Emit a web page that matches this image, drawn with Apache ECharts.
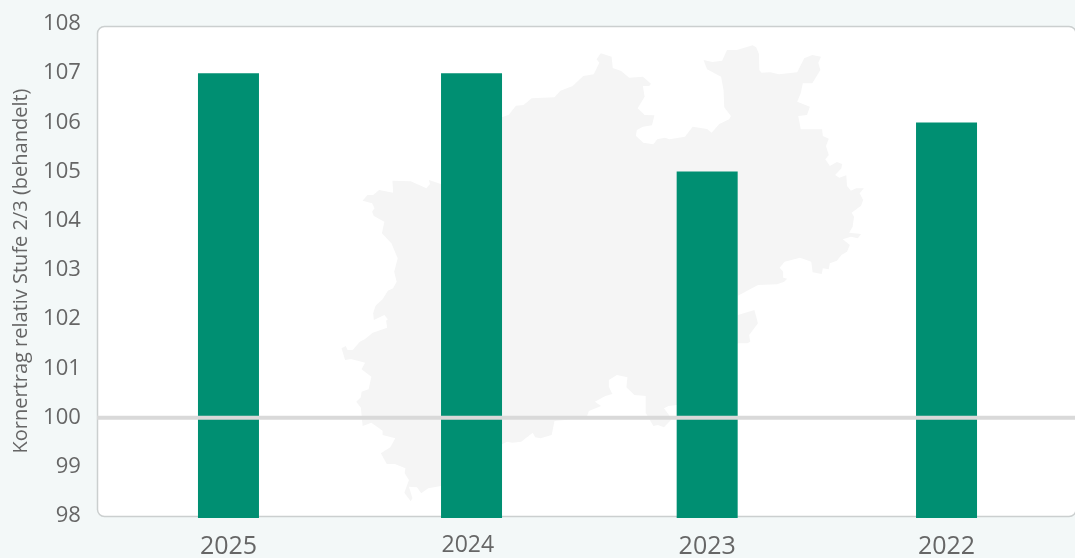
<!DOCTYPE html>
<html><head><meta charset="utf-8">
<style>html,body{margin:0;padding:0;background:#f3f8f8}#c{width:1075px;height:558px}</style>
<script src="https://cdn.jsdelivr.net/npm/echarts@6/dist/echarts.min.js"></script>
</head><body><div id="c"></div>
<script>
const categories = ['2025','2024','2023','2022'];
const values = [107,107,105,106];
const yTicks = [98,99,100,101,102,103,104,105,106,107,108];
const referenceLevel = 100;
const yTitle = 'Kornertrag relativ Stufe 2/3 (behandelt)';
// decorative background silhouette
const outline = [[178,422],[230,424],[275,445],[285,432],[282,420],[316,432],[490,232],[510,224],[530,197],[552,195],[575,175],[640,172],[657,152],[692,138],[722,108],[752,103],[768,68],[760,58],[772,40],[803,50],[806,84],[830,93],[853,113],[892,110],[915,131],[910,138],[892,138],[897,170],[877,205],[897,225],[925,226],[918,256],[892,260],[875,270],[872,287],[893,308],[922,313],[933,298],[955,293],[968,298],[1012,290],[1034,260],[1075,267],[1088,278],[1110,252],[1138,238],[1143,228],[1124,202],[1122,150],[1115,110],[1075,88],[1065,60],[1090,66],[1118,62],[1132,30],[1160,30],[1205,16],[1215,22],[1223,42],[1224,90],[1230,98],[1255,97],[1280,103],[1332,97],[1352,55],[1375,45],[1400,50],[1392,68],[1398,90],[1375,130],[1348,130],[1342,160],[1332,185],[1368,200],[1360,225],[1335,228],[1342,268],[1403,268],[1405,288],[1422,296],[1414,318],[1422,345],[1412,358],[1425,378],[1445,366],[1460,372],[1458,385],[1440,405],[1452,413],[1472,406],[1474,438],[1485,452],[1500,445],[1522,445],[1510,460],[1520,480],[1514,497],[1487,518],[1494,530],[1490,560],[1480,578],[1514,582],[1505,595],[1485,590],[1462,598],[1482,615],[1474,635],[1458,645],[1445,662],[1425,670],[1422,688],[1405,685],[1402,702],[1376,697],[1372,665],[1340,653],[1296,665],[1282,683],[1292,695],[1292,713],[1303,716],[1295,725],[1275,733],[1220,735],[1163,767],[1163,825],[1210,810],[1220,850],[1195,885],[1198,905],[1190,910],[1163,910],[989,1095],[965,1098],[952,1105],[970,1130],[972,1140],[952,1162],[935,1155],[922,1158],[900,1118],[900,1068],[868,1065],[845,1042],[848,1012],[818,1005],[795,1020],[795,1040],[805,1062],[785,1068],[755,1085],[773,1098],[738,1113],[732,1130],[670,1140],[640,1143],[632,1185],[600,1195],[585,1192],[578,1178],[545,1205],[520,1208],[505,1205],[490,1213],[316,1338],[280,1345],[260,1360],[248,1342],[225,1340],[235,1375],[230,1384],[212,1358],[225,1320],[213,1300],[215,1285],[185,1272],[162,1272],[145,1240],[172,1222],[186,1195],[150,1185],[150,1172],[118,1148],[93,1158],[88,1103],[75,1085],[88,1072],[90,1055],[110,1048],[118,1010],[90,988],[100,968],[60,957],[43,960],[33,925],[45,918],[50,930],[65,930],[85,905],[100,897],[122,878],[163,863],[160,842],[165,838],[155,825],[125,840],[123,820],[130,797],[150,778],[165,752],[180,745],[190,725],[183,695],[193,655],[175,610],[148,580],[155,545],[125,528],[120,515],[127,505],[120,490],[93,482],[107,465],[123,465],[140,450],[180,458]];

const font = '"Open Sans"';
const textColor = '#666666';
const yMin = 97.96, yMax = 108;
const hiddenY = {type:'value',min:yMin,max:yMax,show:false};
const chart = echarts.init(document.getElementById('c'),null,{renderer:'canvas'});
chart.setOption({
  animation:false,
  backgroundColor:'#f3f8f8',
  graphic:[
    {type:'rect',z:0,shape:{x:97.5,y:26.5,width:978.5,height:490,r:7},style:{fill:'#ffffff',stroke:'#cbcfcf',lineWidth:1.5}},
    {type:'polygon',z:1,shape:{points:outline.map(p=>[p[0]/2.851+330,p[1]/3+40])},style:{fill:'#f5f5f5'}}
  ],
  grid:[
    {left:108.8,right:8.8,top:24,bottom:40,outerBoundsMode:'none'},
    {left:112.5,right:5.1,top:24,bottom:40,outerBoundsMode:'none'},
    {left:97,right:0,top:24,bottom:40,outerBoundsMode:'none'}
  ],
  xAxis:[
    {type:'category',gridIndex:0,data:categories,
     axisLine:{show:false},axisTick:{show:false},
     axisLabel:{margin:16,color:textColor,fontFamily:font,fontSize:25,
       formatter:v=>v==='2024'?'{s|'+v+'}':v,
       rich:{s:{fontSize:23,fontFamily:font,color:textColor,padding:[0,0,3,0]}}}},
    {type:'category',gridIndex:1,data:categories,show:false},
    {type:'value',gridIndex:2,min:0,max:1,show:false}
  ],
  yAxis:[
    {type:'value',gridIndex:0,min:yMin,max:yMax,splitLine:{show:false},
     axisLine:{show:false},axisTick:{show:false},
     name:yTitle,nameLocation:'middle',nameGap:74,
     nameTextStyle:{color:textColor,fontFamily:font,fontSize:20,padding:[0,0,4,0]},
     axisLabel:{customValues:yTicks,margin:28,color:textColor,fontFamily:font,fontSize:22}},
    Object.assign({gridIndex:1},hiddenY),
    Object.assign({gridIndex:2},hiddenY)
  ],
  series:[
    {type:'bar',xAxisIndex:0,yAxisIndex:0,barWidth:61,z:3,
     data:values.map((v,i)=>categories[i]==='2024'?null:v),itemStyle:{color:'#008f72'}},
    {type:'bar',xAxisIndex:1,yAxisIndex:1,barWidth:61,z:3,
     data:values.map((v,i)=>categories[i]==='2024'?v:null),itemStyle:{color:'#008f72'}},
    {type:'line',xAxisIndex:2,yAxisIndex:2,z:5,symbol:'none',silent:true,
     data:[[0,referenceLevel],[1,referenceLevel]],lineStyle:{color:'#d9d9d9',width:4}}
  ]
});
</script></body></html>
